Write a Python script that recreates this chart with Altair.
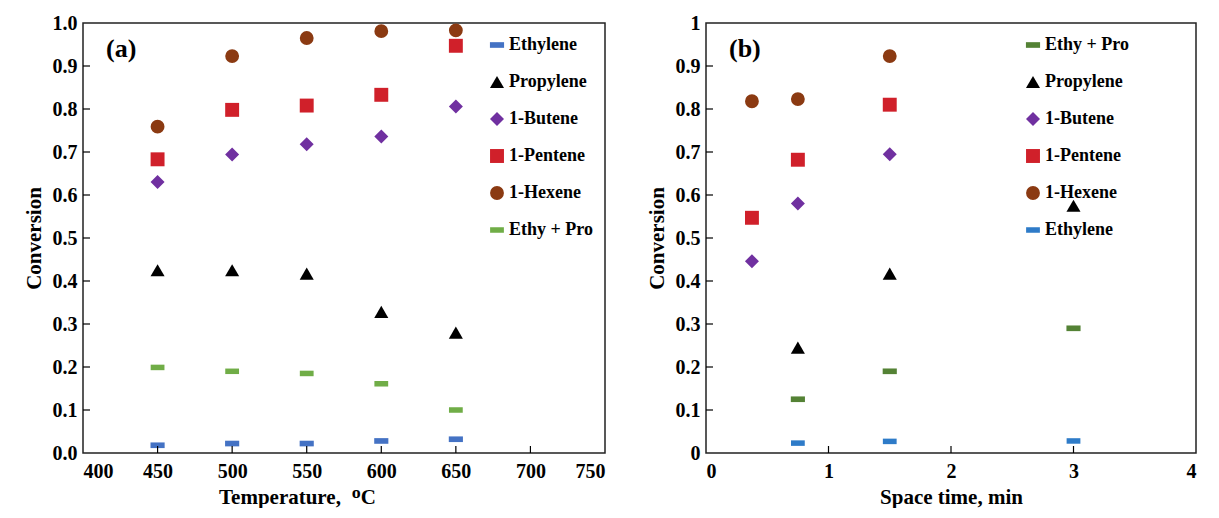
import altair as alt
import pandas as pd

# ---------------- data: panel (a) conversion vs temperature ----------------
temps_a = [450, 500, 550, 600, 650]
ethylene_a = [0.018, 0.022, 0.022, 0.028, 0.032]
propylene_a = [0.425, 0.425, 0.417, 0.328, 0.280]
butene_a = [0.630, 0.694, 0.718, 0.736, 0.806]
pentene_a = [0.683, 0.798, 0.808, 0.833, 0.947]
hexene_a = [0.759, 0.923, 0.965, 0.981, 0.983]
ethypro_a = [0.199, 0.190, 0.185, 0.161, 0.100]

# ---------------- data: panel (b) conversion vs space time ----------------
ethypro_b_x = [0.75, 1.5, 3.0]
ethypro_b = [0.125, 0.190, 0.290]
propylene_b_x = [0.75, 1.5, 3.0]
propylene_b = [0.245, 0.417, 0.575]
butene_b_x = [0.375, 0.75, 1.5]
butene_b = [0.446, 0.580, 0.695]
pentene_b_x = [0.375, 0.75, 1.5]
pentene_b = [0.547, 0.682, 0.810]
hexene_b_x = [0.375, 0.75, 1.5]
hexene_b = [0.818, 0.823, 0.923]
ethylene_b_x = [0.75, 1.5, 3.0]
ethylene_b = [0.023, 0.027, 0.028]

series_a = ["Ethylene", "Propylene", "1-Butene", "1-Pentene", "1-Hexene", "Ethy + Pro"]
series_b = ["Ethy + Pro", "Propylene", "1-Butene", "1-Pentene", "1-Hexene", "Ethylene"]

x_ticks_a = [400, 450, 500, 550, 600, 650, 700, 750]
x_ticks_b = [0, 1, 2, 3, 4]
y_ticks = [0, 0.1, 0.2, 0.3, 0.4, 0.5, 0.6, 0.7, 0.8, 0.9, 1.0]

# ---------------- build tables ----------------
rows_a = []
for name, vals in zip(series_a, [ethylene_a, propylene_a, butene_a, pentene_a, hexene_a, ethypro_a]):
    for x, y in zip(temps_a, vals):
        rows_a.append({"x": x, "y": y, "series": name})
df_a = pd.DataFrame(rows_a)

rows_b = []
for name, xs, vals in zip(
    series_b,
    [ethypro_b_x, propylene_b_x, butene_b_x, pentene_b_x, hexene_b_x, ethylene_b_x],
    [ethypro_b, propylene_b, butene_b, pentene_b, hexene_b, ethylene_b],
):
    for x, y in zip(xs, vals):
        rows_b.append({"x": x, "y": y, "series": name})
df_b = pd.DataFrame(rows_b)

FONT = "Liberation Serif"
DASH = "M-1,-0.4L1,-0.4L1,0.4L-1,0.4Z"
style = {
    "Ethylene": (DASH, 200),
    "Propylene": ("triangle-up", 190),
    "1-Butene": ("diamond", 120),
    "1-Pentene": ("square", 200),
    "1-Hexene": ("circle", 230),
    "Ethy + Pro": (DASH, 200),
}
colors_a = {"Ethylene": "#4472C4", "Propylene": "#000000", "1-Butene": "#7030A0",
            "1-Pentene": "#D0202A", "1-Hexene": "#8B3A12", "Ethy + Pro": "#70AD47"}
colors_b = dict(colors_a)
colors_b["Ethylene"] = "#2E7BC8"
colors_b["Ethy + Pro"] = "#548235"

W_A, W_B, H = 522, 490, 430


def panel(df, order, colors, xdom, xticks, xtitle, title_x, yfmt, tag, legx, w):
    legend = alt.Legend(
        title=None, orient="none", legendX=legx, legendY=13, direction="vertical",
        labelFont=FONT, labelFontSize=18, labelFontWeight="bold", labelColor="black",
        rowPadding=19, labelOffset=3, symbolStrokeWidth=0,
    )
    xaxis_kw = dict(values=xticks, title=xtitle, ticks=False, format="d")
    if title_x is not None:
        xaxis_kw["titleX"] = title_x
    pts = alt.Chart(df).mark_point(filled=True, opacity=1, strokeWidth=0).encode(
        x=alt.X("x:Q", scale=alt.Scale(domain=xdom, nice=False, zero=False),
                axis=alt.Axis(**xaxis_kw)),
        y=alt.Y("y:Q", scale=alt.Scale(domain=[0, 1], nice=False),
                axis=alt.Axis(values=y_ticks, title="Conversion", format=yfmt, ticks=False)),
        color=alt.Color("series:N", scale=alt.Scale(domain=order, range=[colors[s] for s in order]), legend=legend),
        shape=alt.Shape("series:N", scale=alt.Scale(domain=order, range=[style[s][0] for s in order]), legend=legend),
        size=alt.Size("series:N", scale=alt.Scale(domain=order, range=[style[s][1] for s in order]), legend=legend),
    )
    xt = alt.Chart(pd.DataFrame({"t": xticks[1:-1]})).mark_rule(color="black", strokeWidth=1.2).encode(
        x="t:Q", y=alt.value(H), y2=alt.value(H - 7)
    )
    yt = alt.Chart(pd.DataFrame({"t": y_ticks[1:-1]})).mark_rule(color="black", strokeWidth=1.2).encode(
        y="t:Q", x=alt.value(0), x2=alt.value(7)
    )
    label = alt.Chart(pd.DataFrame({"s": [tag]})).mark_text(
        font=FONT, fontSize=26, fontWeight="bold", color="black", align="left", baseline="middle"
    ).encode(x=alt.value(23), y=alt.value(26), text="s:N")
    return alt.layer(pts, xt, yt, label).properties(width=w, height=H)


left = panel(df_a, series_a, colors_a, [400, 750], x_ticks_a, "Temperature,\u2002ᴼC", 214, ".1f", "(a)", 405, W_A)
right = panel(df_b, series_b, colors_b, [0, 4], x_ticks_b, "Space time, min", None, "~g", "(b)", 318, W_B)

chart = alt.hconcat(left, right, spacing=39).resolve_scale(
    color="independent", shape="independent", size="independent"
).properties(
    padding={"left": 14, "top": 4, "right": 0, "bottom": 0}
).configure_view(
    stroke="#222222", strokeWidth=1.5
).configure_axis(
    grid=False, domain=False,
    labelFont=FONT, labelFontSize=20, labelFontWeight="bold", labelColor="black",
    titleFont=FONT, titleFontSize=21, titleFontWeight="bold", titleColor="black",
    labelPadding=6,
).configure_axisX(
    labelPadding=8, titlePadding=5
).configure_axisY(
    titlePadding=8
)

chart.save("out.html", embed_options={"renderer": "svg", "actions": False})
